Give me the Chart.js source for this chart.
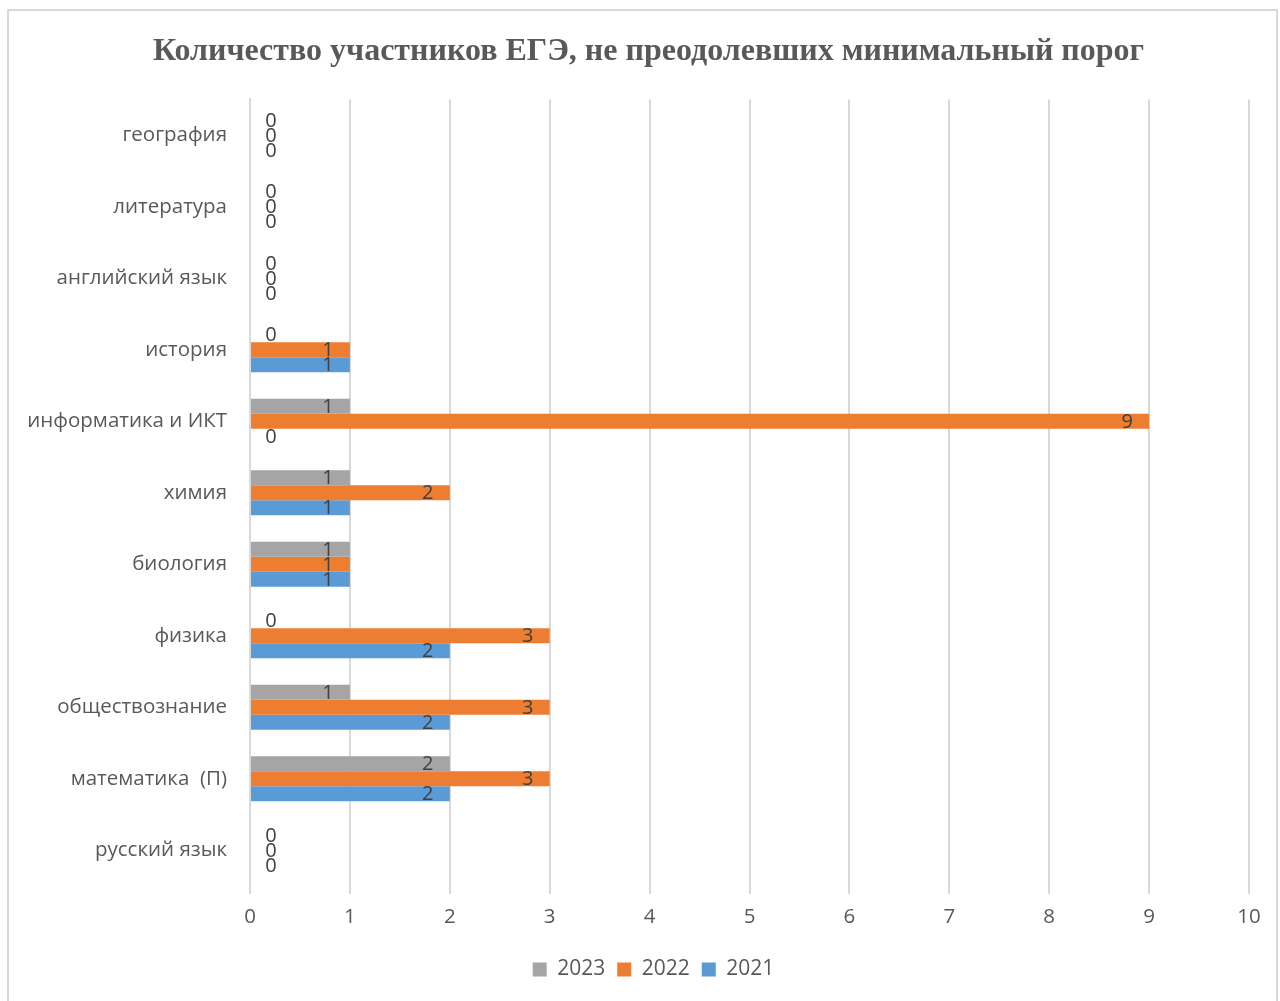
<!DOCTYPE html>
<html>
<head>
<meta charset="utf-8">
<script src="https://cdn.jsdelivr.net/npm/chart.js@4"></script>
<style>
  html, body { margin: 0; padding: 0; background: #fff; }
  #wrap { width: 1280px; height: 1001px; position: relative; }
</style>
</head>
<body>
<div id="wrap"><canvas id="chart" width="1280" height="1001"></canvas></div>
<script>
// categories, top to bottom as drawn
const subjects = ['география', 'литература', 'английский язык', 'история', 'информатика и ИКТ',
  'химия', 'биология', 'физика', 'обществознание', 'математика  (П)', 'русский язык'];
const years = ['2023', '2022', '2021'];
const values2023 = [0, 0, 0, 0, 1, 1, 1, 0, 1, 2, 0];
const values2022 = [0, 0, 0, 1, 9, 2, 1, 3, 3, 3, 0];
const values2021 = [0, 0, 0, 1, 0, 1, 1, 2, 2, 2, 0];
const xTicks = [0, 1, 2, 3, 4, 5, 6, 7, 8, 9, 10];

const colors = ['#A5A5A5', '#ED7D31', '#5B9BD5'];
const textColor = '#595959';
const gridColor = '#D9D9D9';
const sans = "'Open Sans', 'Noto Sans', sans-serif";

// frame around the whole chart
const frame = {
  id: 'frame',
  beforeDraw(chart) {
    const c = chart.ctx;
    c.save();
    c.fillStyle = '#fff';
    c.fillRect(0, 0, chart.width, chart.height);
    c.strokeStyle = gridColor;
    c.lineWidth = 2;
    c.strokeRect(8, 10, 1269, 1000);
    c.restore();
  }
};

// title and legend sit centred on the whole frame, not on the layout box
const shiftBoxes = {
  id: 'shiftBoxes',
  afterLayout(chart) {
    if (chart.titleBlock) { chart.titleBlock.left += 24; chart.titleBlock.right += 24; }
    if (chart.legend) { chart.legend.left += 29; chart.legend.right += 29; }
  }
};

// value labels: inside end of the bar, or just right of the axis for zeros
const valueLabels = {
  id: 'valueLabels',
  afterDatasetsDraw(chart) {
    const c = chart.ctx;
    c.save();
    c.font = '20px ' + sans;
    c.fillStyle = '#404040';
    c.textAlign = 'center';
    c.textBaseline = 'middle';
    chart.data.datasets.forEach((ds, i) => {
      chart.getDatasetMeta(i).data.forEach((bar, j) => {
        const v = ds.data[j];
        const x = v > 0 ? bar.x - 22 : bar.base + 21;
        c.fillText(String(v), x, bar.y + 1);
      });
    });
    c.restore();
  }
};

const datasets = [values2023, values2022, values2021].map((vals, i) => ({
  label: years[i],
  data: vals,
  backgroundColor: colors[i],
  barPercentage: 1,
  categoryPercentage: 0.63
}));

new Chart(document.getElementById('chart'), {
  type: 'bar',
  data: { labels: subjects, datasets: datasets },
  options: {
    indexAxis: 'y',
    responsive: false,
    animation: false,
    layout: { padding: { left: 0, right: 31, top: 0, bottom: 11 } },
    plugins: {
      title: {
        display: true,
        text: 'Количество участников ЕГЭ, не преодолевших минимальный порог',
        color: textColor,
        font: { family: "'Liberation Serif', serif", size: 32, weight: 'bold' },
        padding: { top: 33, bottom: 28 }
      },
      legend: {
        position: 'bottom',
        labels: {
          color: textColor,
          font: { family: sans, size: 21 },
          boxWidth: 14,
          boxHeight: 14,
          padding: 12
        }
      },
      tooltip: { enabled: false }
    },
    scales: {
      x: {
        min: 0,
        max: 10,
        afterBuildTicks(scale) { scale.ticks = xTicks.map(v => ({ value: v })); },
        afterFit(scale) { scale.height = 61; },
        grid: { color: gridColor, lineWidth: 2, tickLength: 8 },
        border: { display: false },
        ticks: { color: textColor, font: { family: sans, size: 20.5 }, padding: 11 }
      },
      y: {
        afterFit(scale) { scale.width = 250; },
        grid: { display: false },
        border: { color: gridColor, width: 2 },
        ticks: { color: textColor, font: { family: sans, size: 20.5 }, padding: 15 }
      }
    }
  },
  plugins: [frame, shiftBoxes, valueLabels]
});
</script>
</body>
</html>
